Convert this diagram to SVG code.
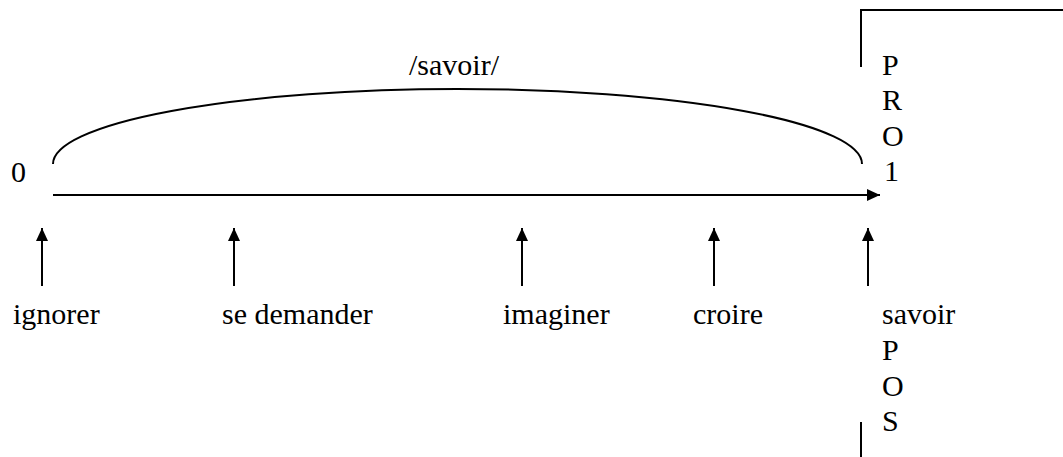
<svg xmlns="http://www.w3.org/2000/svg" width="1063" height="457" viewBox="0 0 1063 457">
<style>
  .t { font-family: 'Liberation Serif', 'DejaVu Serif', serif; font-size: 30px; fill: #000; }
  .ln { stroke: #000; stroke-width: 2; fill: none; }
  .arr { stroke: #000; stroke-width: 2; fill: none; marker-end: url(#ah); }
</style>
<defs>
  <marker id="ah" markerUnits="userSpaceOnUse" markerWidth="14" markerHeight="14" viewBox="0 0 14 14" refX="13" refY="7" orient="auto">
    <path d="M0,1 L13,7 L0,13 Z" fill="#000"/>
  </marker>
</defs>
<rect width="1063" height="457" fill="#fff"/>
<g id="connectors">
  <path class="ln" d="M53,164 A404.5,75 0 0 1 862,164"/>
  <line class="arr" x1="53" y1="195" x2="880" y2="195"/>
  <line class="arr" x1="42" y1="286" x2="42" y2="228"/>
  <line class="arr" x1="234" y1="286" x2="234" y2="228"/>
  <line class="arr" x1="522" y1="286" x2="522" y2="228"/>
  <line class="arr" x1="714" y1="286" x2="714" y2="228"/>
  <line class="arr" x1="868" y1="286" x2="868" y2="228"/>
  <polyline class="ln" points="861,67 861,10 1063,10"/>
  <line class="ln" x1="861" y1="422" x2="861" y2="457"/>
</g>
<g class="t" font-family="Liberation Serif, serif">
<g id="label-savoir-arc"><text x="409" y="75">/savoir/</text></g>
<g id="label-0"><text x="11" y="182">0</text></g>
<g id="label-pro1">
  <text x="882" y="75">P</text>
  <text x="882" y="110">R</text>
  <text x="882" y="146">O</text>
  <text x="884" y="181">1</text>
</g>
<g id="node-ignorer"><text x="13" y="324">ignorer</text></g>
<g id="node-se-demander"><text x="222" y="324">se demander</text></g>
<g id="node-imaginer"><text x="503" y="324">imaginer</text></g>
<g id="node-croire"><text x="693" y="324">croire</text></g>
<g id="node-savoir">
  <text x="882" y="324">savoir</text>
  <text x="882" y="360">P</text>
  <text x="882" y="396">O</text>
  <text x="882" y="431">S</text>
</g>
</g>
</svg>
